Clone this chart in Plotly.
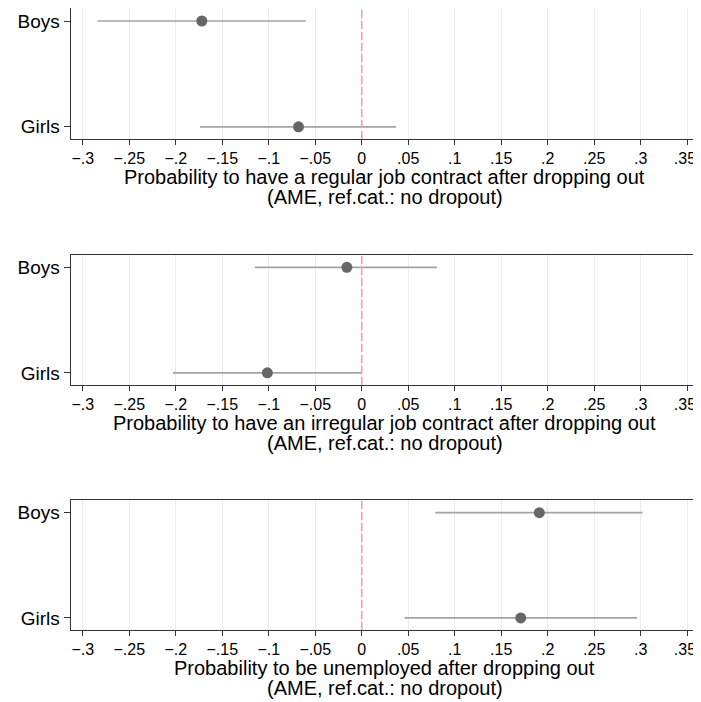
import plotly.graph_objects as go
from plotly.subplots import make_subplots

groups = ["Girls", "Boys"]
titles_line1 = [
    "Probability to have a regular job contract after dropping out",
    "Probability to have an irregular job contract after dropping out",
    "Probability to be unemployed after dropping out",
]
title_line2 = "(AME, ref.cat.: no dropout)"
# [Girls, Boys]
est_regular = [-0.068, -0.172]
lo_regular = [-0.174, -0.284]
hi_regular = [0.037, -0.060]
est_irregular = [-0.1015, -0.016]
lo_irregular = [-0.203, -0.115]
hi_irregular = [0.000, 0.081]
est_unemp = [0.171, 0.191]
lo_unemp = [0.046, 0.079]
hi_unemp = [0.296, 0.302]

panels = [
    (est_regular, lo_regular, hi_regular),
    (est_irregular, lo_irregular, hi_irregular),
    (est_unemp, lo_unemp, hi_unemp),
]
tickvals = [-0.3, -0.25, -0.2, -0.15, -0.1, -0.05, 0, 0.05, 0.1, 0.15, 0.2, 0.25, 0.3, 0.35]
ticktext = ["\u2212.3", "\u2212.25", "\u2212.2", "\u2212.15", "\u2212.1", "\u2212.05", "0",
            ".05", ".1", ".15", ".2", ".25", ".3", ".35\u00a0"]

# page body has an 8px margin: lay out in page pixels, then convert
OFF = 8
W, H = 701 - OFF, 702 - OFF


def px(x):
    return (x - OFF) / W


def py(y):
    return 1 - (y - OFF) / H


fig = make_subplots(rows=3, cols=1)
xdom = [px(70.7), px(699)]
ypix = [(8.3, 139), (254.7, 385), (500, 630)]
font = "Liberation Sans, Arial, Helvetica, sans-serif"

for i, (est, lo, hi) in enumerate(panels):
    r = i + 1
    for g, e, l, h in zip(groups, est, lo, hi):
        fig.add_trace(go.Scatter(x=[l, h], y=[g, g], mode="lines",
                                 line=dict(color="#a3a3a3", width=1.6),
                                 showlegend=False, hoverinfo="skip"), row=r, col=1)
    fig.add_trace(go.Scatter(x=est, y=groups, mode="markers",
                             marker=dict(color="#666666", size=11),
                             showlegend=False), row=r, col=1)
    top, bot = ypix[i]
    ax = "" if r == 1 else str(r)
    fig.update_xaxes(row=r, col=1, domain=xdom, range=[-0.313, 0.3627],
                     tickvals=tickvals, ticktext=ticktext, showgrid=True,
                     gridcolor="#ebebeb", gridwidth=1.2, zeroline=False,
                     showline=True, linecolor="#333333", linewidth=1.3, mirror=True,
                     ticks="outside", ticklen=5, tickcolor="#333333", automargin=False,
                     tickfont=dict(size=16, color="black", family=font))
    fig.update_yaxes(row=r, col=1, domain=[py(bot), py(top)],
                     type="category", categoryorder="array", categoryarray=groups,
                     range=[-0.115, 1.12], showgrid=False, zeroline=False,
                     showline=True, linecolor="#333333", linewidth=1.3, mirror=True,
                     ticks="outside", ticklen=6, tickcolor="#333333", automargin=False,
                     tickfont=dict(size=19, color="black", family=font))
    fig.add_shape(type="line", x0=0, x1=0, y0=0, y1=1,
                  xref="x" + ax, yref="y" + ax + " domain",
                  line=dict(color="#f4a0a0", width=1.6, dash="8px,3px"))
    xc = (xdom[0] + xdom[1]) / 2
    fig.add_annotation(text=titles_line1[i], x=xc, xref="paper",
                       y=py(bot + 38), yref="paper", yanchor="middle",
                       showarrow=False, align="center",
                       font=dict(size=20, color="black", family=font))
    fig.add_annotation(text=title_line2, x=xc, xref="paper",
                       y=py(bot + 58), yref="paper", yanchor="middle",
                       showarrow=False, align="center",
                       font=dict(size=20, color="black", family=font))

fig.update_layout(width=W, height=H, margin=dict(l=0, r=0, t=0, b=0),
                  plot_bgcolor="white", paper_bgcolor="white")
fig.write_html("out.html")
